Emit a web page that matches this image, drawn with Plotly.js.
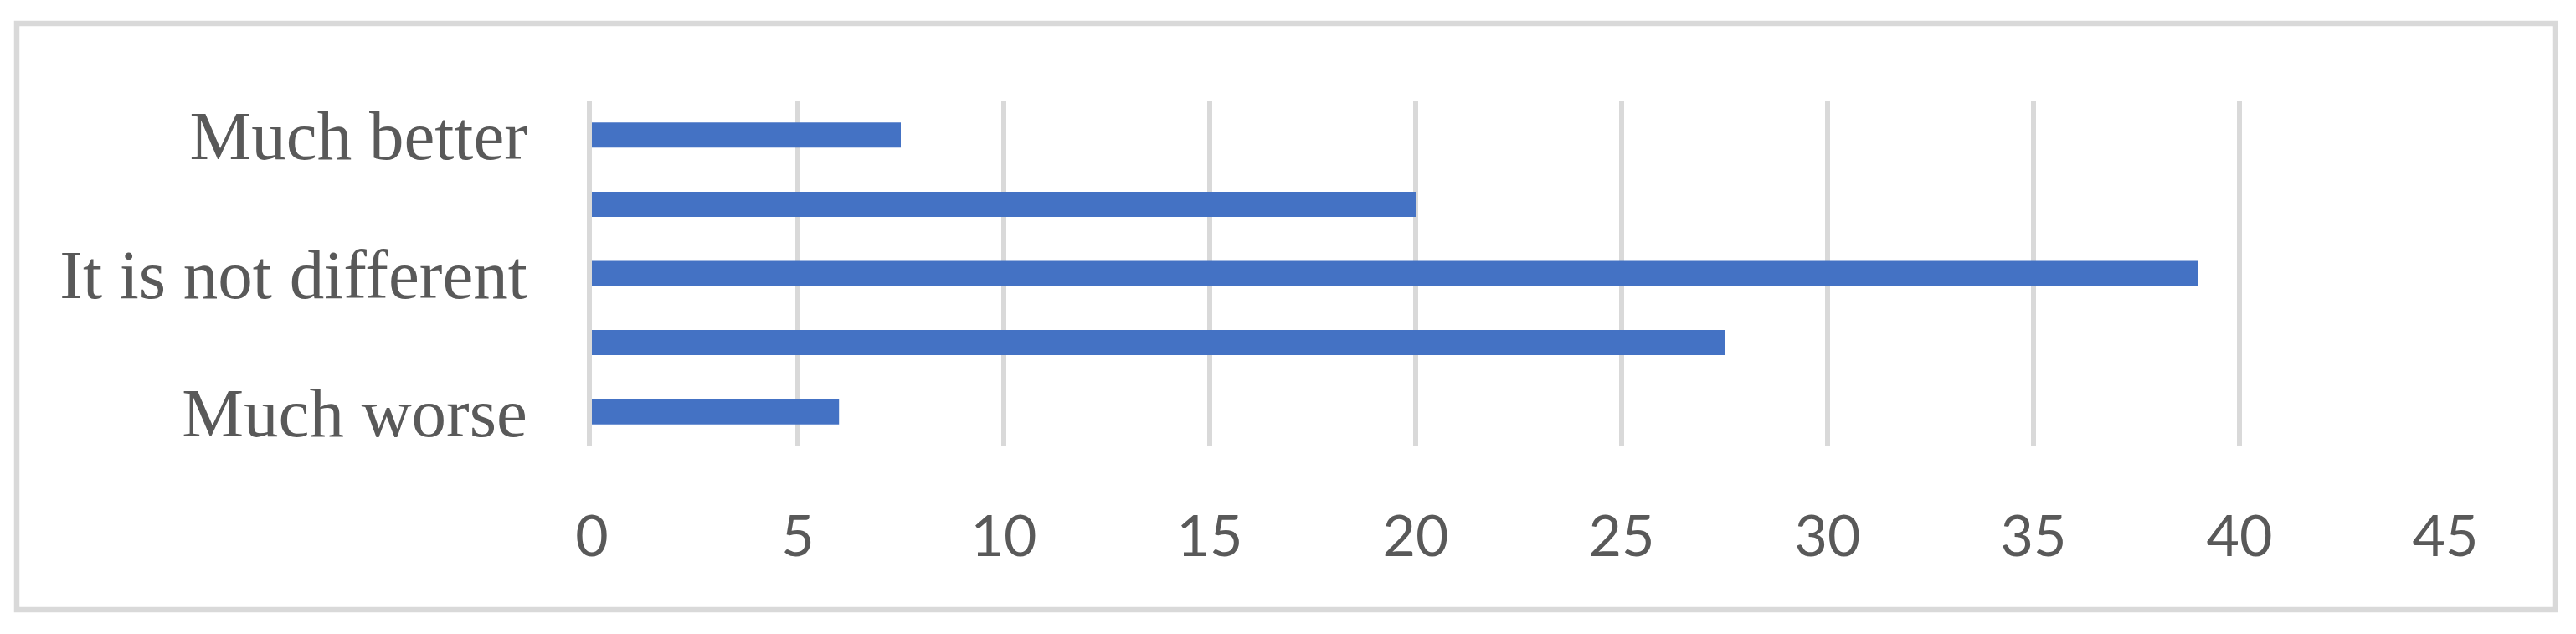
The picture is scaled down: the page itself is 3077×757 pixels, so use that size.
<!DOCTYPE html>
<html>
<head>
<meta charset="utf-8">
<script src="https://cdn.plot.ly/plotly-3.0.1.min.js"></script>
<style>
  html, body { margin: 0; padding: 0; background: #ffffff; }
  #chart { width: 3077px; height: 757px; }
</style>
</head>
<body>
<div id="chart"></div>
<script>
// Data (top to bottom as in the reference)
var categories = ["Much better", "Better", "It is not different", "Worse", "Much worse"];
var values = [7.5, 20, 39, 27.5, 6];
var tickLabels = ["Much better", "", "It is not different", "", "Much worse"];
var xTicks = [0, 5, 10, 15, 20, 25, 30, 35, 40, 45];

// Layout geometry (pixels)
var W = 3077, H = 757;
var L = 707, R = 2921, T = 120, B = 533;
var pw = R - L, ph = B - T;
function px(x) { return (x - L) / pw; }
function py(y) { return (B - y) / ph; }

var grid = "#d9d9d9";
var textColor = "#595959";

var trace = {
  type: "bar",
  orientation: "h",
  y: categories,
  x: values,
  marker: { color: "#4472C4" },
  hoverinfo: "x+y"
};

var layout = {
  width: W,
  height: H,
  margin: { l: L, r: W - R, t: T, b: H - B, pad: 0 },
  paper_bgcolor: "#ffffff",
  plot_bgcolor: "#ffffff",
  showlegend: false,
  bargap: 0.637,
  xaxis: {
    range: [0, 45],
    tickmode: "array",
    tickvals: xTicks,
    ticktext: xTicks.map(String),
    showgrid: true,
    gridcolor: grid,
    gridwidth: 6.5,
    zeroline: false,
    showline: false,
    ticks: "",
    ticklabelstandoff: 62,
    tickfont: { family: "Lato, 'Open Sans', sans-serif", size: 68, color: textColor },
    fixedrange: true
  },
  yaxis: {
    type: "category",
    autorange: "reversed",
    tickmode: "array",
    tickvals: categories,
    ticktext: tickLabels,
    showgrid: false,
    zeroline: false,
    showline: true,
    linecolor: grid,
    linewidth: 6.5,
    ticks: "",
    ticklabelstandoff: 54,
    tickfont: { family: "'Liberation Serif', 'Times New Roman', serif", size: 83, color: textColor },
    fixedrange: true
  },
  shapes: [{
    type: "rect",
    xref: "paper", yref: "paper",
    x0: px(20), x1: px(3052),
    y0: py(728), y1: py(28),
    line: { color: grid, width: 6.5 },
    fillcolor: "rgba(0,0,0,0)",
    layer: "below"
  }]
};

Plotly.newPlot("chart", [trace], layout, { displayModeBar: false, staticPlot: true });
</script>
</body>
</html>
